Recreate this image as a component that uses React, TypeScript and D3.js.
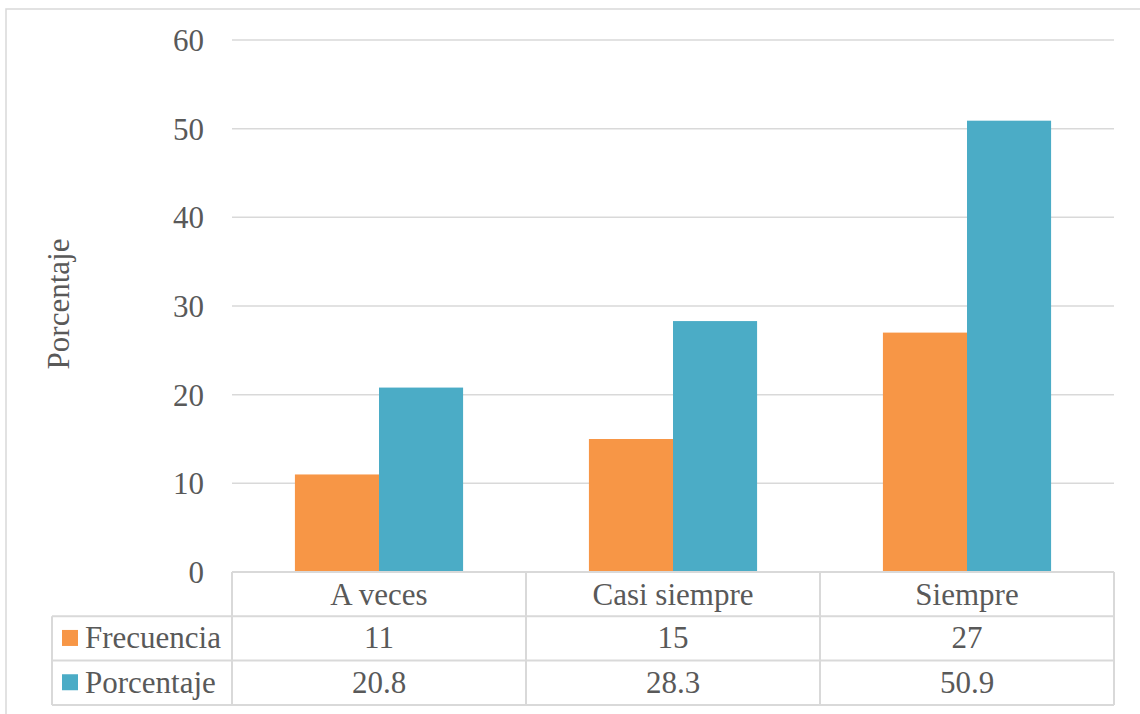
import React from "react";
import * as d3 from "d3";

const categories = ["A veces", "Casi siempre", "Siempre"];
const seriesNames = ["Frecuencia", "Porcentaje"];
const frecuencia = [11, 15, 27];
const porcentaje = [20.8, 28.3, 50.9];
const tableValues = [["11", "15", "27"], ["20.8", "28.3", "50.9"]];
const yTicks = [0, 10, 20, 30, 40, 50, 60];
const colors = ["#F79646", "#4BACC6"];

const W = 1140;
const H = 714;
const plotLeft = 232;
const plotRight = 1114;
const plotTop = 40;
const plotBottom = 572;
const rowH = 44.3;
const tableLeft = 52;
const textColor = "#595959";
const gridColor = "#D9D9D9";
const font = "Liberation Serif";
const fs = 31;

export default function App() {
  const y = d3.scaleLinear().domain([0, 60]).range([plotBottom, plotTop]);
  const x0 = d3.scaleBand().domain(categories).range([plotLeft, plotRight]).paddingInner(0).paddingOuter(0);
  const bw = x0.bandwidth();
  const groupW = bw * 0.572;
  const x1 = d3.scaleBand().domain(seriesNames).range([0, groupW]).padding(0);
  const series = [frecuencia, porcentaje];

  const rowTops = [plotBottom, plotBottom + rowH, plotBottom + 2 * rowH];
  const tableBottom = plotBottom + 3 * rowH;
  const ts = { fontFamily: font, fontSize: fs, fill: textColor } as React.CSSProperties;

  return (
    <svg width={W} height={H} style={{ position: "absolute", left: 0, top: 0, background: "#fff", fontFamily: font }}>
      <rect x={6} y={9} width={W + 10} height={H + 10} fill="#fff" stroke={gridColor} strokeWidth={1.5} />
      {yTicks.map((t) => (
        <g key={t}>
          {t > 0 && (
            <line x1={plotLeft} x2={plotRight} y1={y(t)} y2={y(t)} stroke={gridColor} strokeWidth={1.5} />
          )}
          <text x={204} y={y(t) + 11} textAnchor="end" style={ts}>
            {t}
          </text>
        </g>
      ))}
      <text transform={`translate(${69},${304}) rotate(-90)`} textAnchor="middle" style={ts}>
        Porcentaje
      </text>
      {categories.map((c, i) =>
        series.map((s, j) => {
          const x = (x0(c) as number) + (bw - groupW) / 2 + (x1(seriesNames[j]) as number);
          return (
            <rect key={c + j} x={x} y={y(s[i])} width={x1.bandwidth()} height={plotBottom - y(s[i])} fill={colors[j]} />
          );
        })
      )}
      <line x1={plotLeft} x2={plotRight} y1={rowTops[0]} y2={rowTops[0]} stroke={gridColor} strokeWidth={2} />
      {[rowTops[1], rowTops[2], tableBottom].map((yy, i) => (
        <line key={i} x1={tableLeft} x2={plotRight} y1={yy} y2={yy} stroke={gridColor} strokeWidth={2} />
      ))}
      <line x1={tableLeft} x2={tableLeft} y1={rowTops[1]} y2={tableBottom} stroke={gridColor} strokeWidth={2} />
      {[...categories.map((c) => x0(c) as number), plotRight].map((xx, i) => (
        <line key={i} x1={xx} x2={xx} y1={rowTops[0]} y2={tableBottom} stroke={gridColor} strokeWidth={2} />
      ))}
      {categories.map((c) => (
        <text key={c} x={(x0(c) as number) + bw / 2} y={rowTops[0] + rowH / 2 + 10.5} textAnchor="middle" style={ts}>
          {c}
        </text>
      ))}
      {seriesNames.map((n, j) => (
        <g key={n}>
          <rect x={62} y={rowTops[j + 1] + rowH / 2 - 8.5} width={16} height={16} fill={colors[j]} />
          <text x={85} y={rowTops[j + 1] + rowH / 2 + 10} style={ts}>
            {n}
          </text>
          {categories.map((c, i) => (
            <text key={c} x={(x0(c) as number) + bw / 2} y={rowTops[j + 1] + rowH / 2 + 10} textAnchor="middle" style={ts}>
              {tableValues[j][i]}
            </text>
          ))}
        </g>
      ))}
    </svg>
  );
}
